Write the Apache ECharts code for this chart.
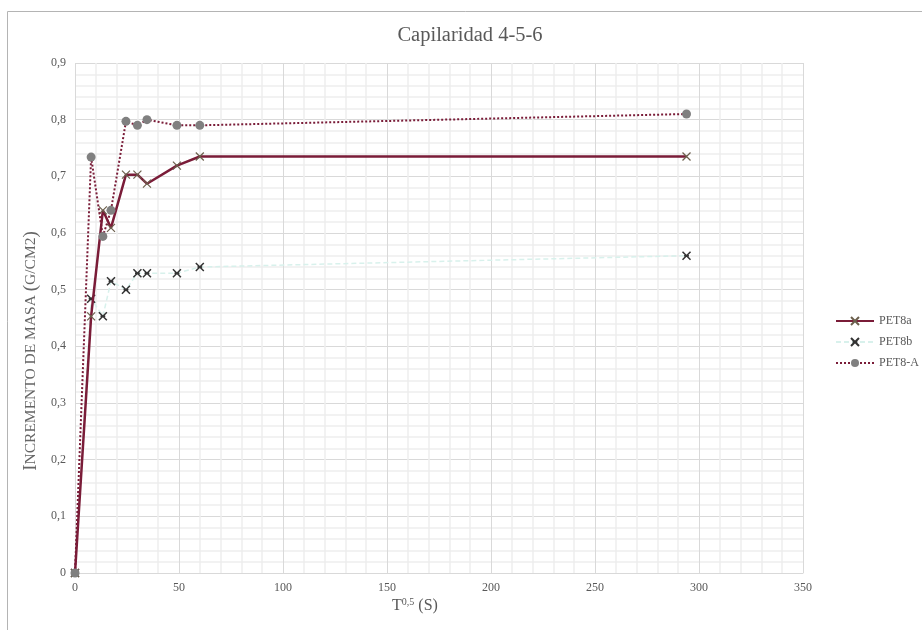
<!DOCTYPE html>
<html>
<head>
<meta charset="utf-8">
<script src="https://cdn.jsdelivr.net/npm/echarts@6/dist/echarts.min.js"></script>
<style>
  html, body { margin: 0; padding: 0; background: #fff; }
  #charts { width: 922px; height: 630px; }
</style>
</head>
<body>
<div id="charts"></div>
<script>
// raiz del tiempo (s^0,5)
var tiempos = [0, 7.75, 13.4, 17.3, 24.5, 30, 34.6, 49, 60, 294];
var pet8a = [0, 0.453, 0.640, 0.609, 0.703, 0.703, 0.687, 0.719, 0.735, 0.735];
var pet8b = [0, 0.484, 0.453, 0.515, 0.500, 0.529, 0.529, 0.529, 0.540, 0.560];
var pet8A = [0, 0.734, 0.594, 0.640, 0.797, 0.790, 0.800, 0.790, 0.790, 0.810];
var nombres = ['PET8a', 'PET8b', 'PET8-A'];

var fuente = 'Liberation Serif';
var gris = '#595959';

function pares(ys) {
    var out = [];
    for (var i = 0; i < tiempos.length; i++) {
        out.push([tiempos[i], ys[i]]);
    }
    return out;
}

var myChart = echarts.init(document.getElementById('charts'));

var option = {
    animation: false,
    textStyle: { fontFamily: fuente },
    title: {
        text: 'Capilaridad 4-5-6',
        left: 470,
        top: 25,
        padding: 0,
        textAlign: 'center',
        textStyle: { fontFamily: fuente, fontSize: 20.5, fontWeight: 'normal', color: gris }
    },
    legend: {
        orient: 'vertical',
        left: 835,
        top: 315,
        padding: 0,
        itemWidth: 38,
        itemHeight: 10,
        itemGap: 9,
        data: nombres,
        textStyle: { fontFamily: fuente, fontSize: 12, color: gris }
    },
    grid: { left: 75, right: 119, top: 63, bottom: 57, containLabel: false },
    xAxis: {
        type: 'value',
        min: 0,
        max: 350,
        interval: 50,
        axisLine: { show: true, lineStyle: { color: '#d9d9d9' } },
        axisTick: { show: false },
        axisLabel: { color: gris, fontSize: 12, margin: 9 },
        splitLine: { lineStyle: { color: '#d9d9d9' } },
        minorTick: { show: false, splitNumber: 5 },
        minorSplitLine: { show: true, lineStyle: { color: '#eeeeee', width: 1.5 } }
    },
    yAxis: {
        type: 'value',
        min: 0,
        max: 0.9,
        interval: 0.1,
        axisLine: { show: false },
        axisTick: { show: false },
        axisLabel: {
            color: gris, fontSize: 12, margin: 9,
            formatter: function (v) { return String(+v.toFixed(1)).replace('.', ','); }
        },
        splitLine: { lineStyle: { color: '#d9d9d9' } },
        minorTick: { show: false, splitNumber: 5 },
        minorSplitLine: { show: true, lineStyle: { color: '#eeeeee', width: 1.5 } }
    },
    graphic: [
        {
            type: 'rect',
            shape: { x: 7.5, y: 11.5, width: 1000, height: 1000 },
            style: { fill: 'none', stroke: '#b4b4b4', lineWidth: 1 },
            silent: true
        },
        {
            type: 'text',
            x: 31,
            y: 351,
            rotation: Math.PI / 2,
            style: {
                text: '{a|I}{b|NCREMENTO DE MASA }{a|(}{b|G/CM2}{a|)}',
                align: 'center',
                verticalAlign: 'middle',
                rich: {
                    a: { fontFamily: fuente, fontSize: 19, fill: '#666' },
                    b: { fontFamily: fuente, fontSize: 15.5, fill: '#666' }
                }
            }
        },
        {
            type: 'text',
            x: 415,
            y: 606,
            style: {
                text: '{a|T}{s|0,5}{a| (S)}',
                align: 'center',
                verticalAlign: 'middle',
                rich: {
                    a: { fontFamily: fuente, fontSize: 16, fill: gris },
                    s: { fontFamily: fuente, fontSize: 10, fill: gris, verticalAlign: 'top', padding: [0, 0, 8, 0] }
                }
            }
        }
    ],
    series: [
        {
            name: nombres[0],
            type: 'line',
            data: pares(pet8a),
            symbol: 'path://M0,0L10,10M10,0L0,10',
            symbolSize: 8,
            showAllSymbol: true,
            lineStyle: { color: '#7a1c38', width: 2.5 },
            itemStyle: { color: '#7a1c38', borderColor: '#6b5f4c', borderWidth: 1.2 },
            z: 3
        },
        {
            name: nombres[1],
            type: 'line',
            data: pares(pet8b),
            symbol: 'path://M0,0L10,10M10,0L0,10M2,5L8,5',
            symbolSize: 8,
            showAllSymbol: true,
            lineStyle: { color: '#d8f1ec', width: 1.5, type: [5, 3] },
            itemStyle: { color: '#333', borderColor: '#333', borderWidth: 1.5 },
            z: 2
        },
        {
            name: nombres[2],
            type: 'line',
            data: pares(pet8A),
            symbol: 'circle',
            symbolSize: 9,
            showAllSymbol: true,
            lineStyle: { color: '#7a1c38', width: 2, type: [2, 2] },
            itemStyle: { color: '#808080', borderWidth: 0 },
            z: 4
        }
    ]
};

myChart.setOption(option);
</script>
</body>
</html>
